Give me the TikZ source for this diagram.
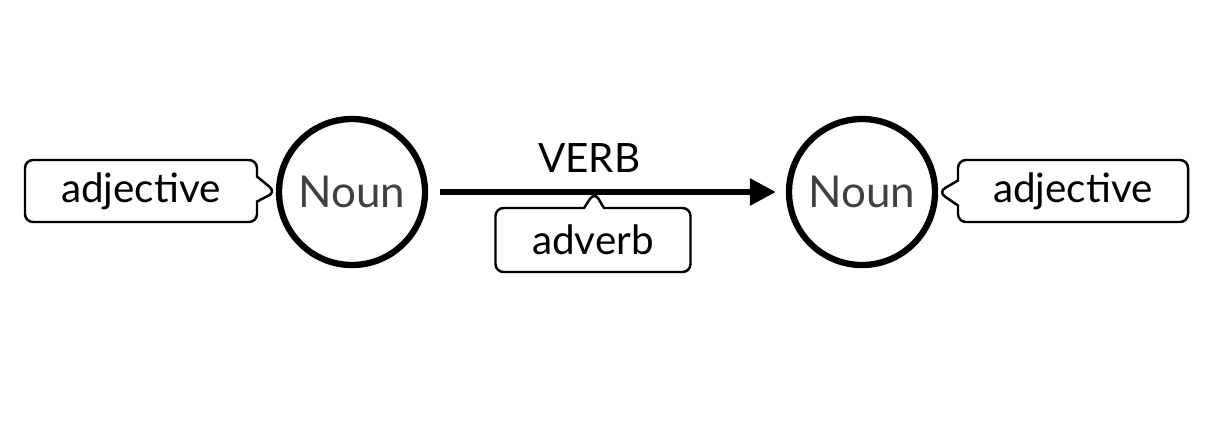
\documentclass[tikz,border=0pt]{standalone}
\usepackage{fontspec}
\setmainfont{Lato}
\usetikzlibrary{arrows.meta,shapes.callouts}

\begin{document}
\begin{tikzpicture}[line width=0.8pt,>=Stealth,
  noun/.style={circle,draw,line width=1.8pt,minimum size=1.46cm,inner sep=0pt,
    text=black!75,font=\fontsize{12.5}{14}\selectfont},
  tag/.style={rectangle callout,draw,line width=0.7pt,rounded corners=0.8mm,
    fill=white,inner sep=0pt,font=\fontsize{11.5}{13}\selectfont},
  rel/.style={->,line width=1.7pt,>={Triangle[length=2.6mm,width=2.6mm]}}]
\useasboundingbox (0,0) rectangle (12.10,4.32);
% ---- the two nouns ----
\node[noun] (nounL) at (3.52,2.40) {Noun};
\node[noun] (nounR) at (8.62,2.40) {Noun};
% ---- verb arrow ----
\draw[rel,shorten <=1.2mm,shorten >=1.0mm] (nounL) -- (nounR)
  node[pos=0.45,above=0.5mm,font=\fontsize{11.5}{13}\selectfont] (verb) {VERB}
  coordinate[pos=0.465] (vmid);
% ---- adjectives and adverb ----
\node[tag,minimum width=2.32cm,minimum height=0.62cm,
  callout absolute pointer={(nounL.west)},callout pointer width=2.5mm]
  (adjL) at (1.41,2.41) {adjective};
\node[tag,minimum width=2.30cm,minimum height=0.62cm,
  callout absolute pointer={(nounR.east)},callout pointer width=2.5mm]
  (adjR) at (10.73,2.41) {adjective};
\node[tag,minimum width=1.95cm,minimum height=0.64cm,
  callout absolute pointer={(vmid)},callout pointer width=2.0mm]
  (adv) at (5.93,1.92) {adverb};
\end{tikzpicture}
\end{document}
